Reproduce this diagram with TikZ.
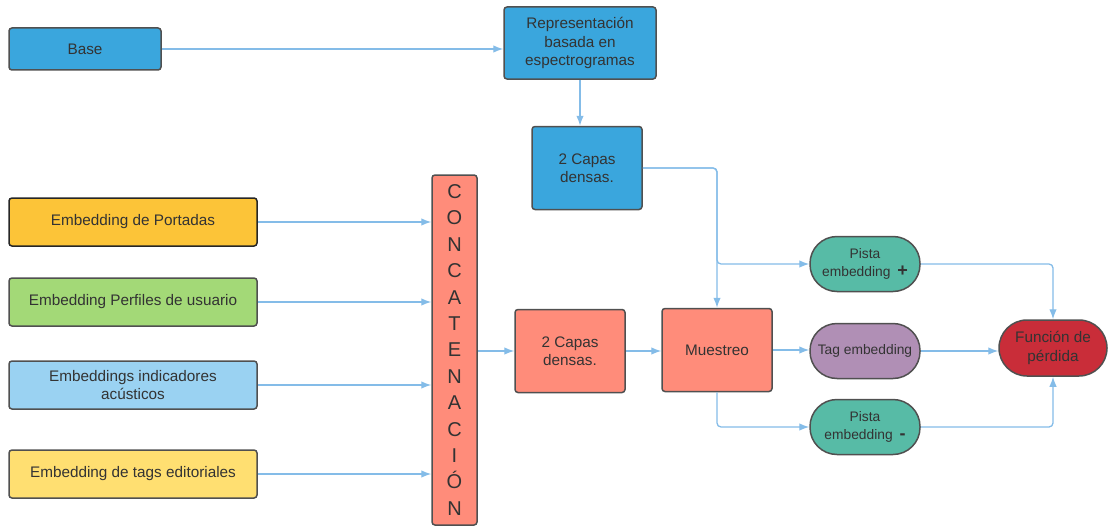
\documentclass[tikz,border=0pt]{standalone}
\usepackage{fontspec}
\setmainfont{Liberation Sans}
\usepackage{tikz}
\usetikzlibrary{arrows.meta}
\definecolor{cblue}{HTML}{3AA6DD}
\definecolor{corange}{HTML}{FCC438}
\definecolor{cgreen}{HTML}{A3D977}
\definecolor{clight}{HTML}{9AD2F2}
\definecolor{cyellow}{HTML}{FFDF71}
\definecolor{csalmon}{HTML}{FF8C7A}
\definecolor{cteal}{HTML}{57BBA6}
\definecolor{cpurple}{HTML}{B08FB5}
\definecolor{cred}{HTML}{C92D39}
\definecolor{cline}{HTML}{84BCE8}
\definecolor{cborder}{HTML}{505050}
\definecolor{ctext}{HTML}{333333}
\tikzstyle{pbox} = [rectangle, rounded corners=3pt, text centered, align=center, draw=cborder, line width=1.5pt, text=ctext, font=\fontsize{15.3}{18.5}\selectfont]
\tikzstyle{pemb} = [pbox, minimum width=248pt, minimum height=48pt]
\tikzstyle{psmall} = [pbox, minimum width=110pt, minimum height=83pt]
\tikzstyle{ppill} = [pbox, rounded corners=27pt, minimum width=110pt, minimum height=55pt, fill=cteal, font=\fontsize{13.8}{18.5}\selectfont]
\tikzstyle{arrow} = [draw=cline, line width=1.3pt, -{Latex[length=10pt, width=7.5pt]}]

\begin{document}
\begin{tikzpicture}[x=1pt, y=-1pt]
\useasboundingbox (0,0) rectangle (1108,527);
\node (base) [pbox, minimum width=152pt, minimum height=42pt, fill=cblue] at (85,49) {Base};
\node (repr) [pbox, minimum width=152pt, minimum height=72pt, fill=cblue] at (580,43) {Representación\\basada en\\espectrogramas};
\node (capasa) [psmall, fill=cblue] at (587,168) {2 Capas\\densas.};
\node (portadas) [pemb, fill=corange, draw=black!85] at (133,222) {Embedding de Portadas};
\node (perfiles) [pemb, fill=cgreen] at (133,302) {Embedding Perfiles de usuario};
\node (acusticos) [pemb, fill=clight] at (133,385) {Embeddings indicadores\\acústicos};
\node (tags) [pemb, fill=cyellow] at (133,474) {Embedding de tags editoriales};
\node (concat) [pbox, minimum width=45pt, minimum height=350pt, fill=csalmon, font=\fontsize{20}{26.4}\selectfont] at (454.5,350) {C\\O\\N\\C\\A\\T\\E\\N\\A\\C\\I\\Ó\\N};
\node (capasb) [psmall, fill=csalmon] at (570,351) {2 Capas\\densas.};
\node (muestreo) [psmall, fill=csalmon] at (717,350) {Muestreo};
\node (pistap) [ppill] at (865,264) {Pista\\embedding\enspace{\fontsize{18}{18}\selectfont\bfseries +}};
\node (tag) [ppill, fill=cpurple] at (865,351) {Tag embedding};
\node (pistam) [ppill] at (865,427) {Pista\\embedding\enspace{\fontsize{18}{18}\selectfont\bfseries -}};
\node (perdida) [pbox, rounded corners=28pt, minimum width=108pt, minimum height=56pt, fill=cred] at (1053,348) {Función de\\pérdida};
\coordinate (split) at (muestreo.north |- pistap.west);
\draw [arrow] (base.east) -- (base.east -| repr.west);
\draw [arrow] (repr.south) -- (repr.south |- capasa.north);
\draw [arrow, rounded corners=4pt] (capasa.east) -| (muestreo.north);
\draw [arrow, rounded corners=4pt] (capasa.east) -| (split) -- (pistap.west);
\draw [arrow] (portadas.east) -- (portadas.east -| concat.west);
\draw [arrow] (perfiles.east) -- (perfiles.east -| concat.west);
\draw [arrow] (acusticos.east) -- (acusticos.east -| concat.west);
\draw [arrow] (tags.east) -- (tags.east -| concat.west);
\draw [arrow] (capasb.west -| concat.east) -- (capasb.west);
\draw [arrow] (capasb.east) -- (capasb.east -| muestreo.west);
\draw [arrow] (muestreo.east) -- (muestreo.east -| tag.west);
\draw [arrow, rounded corners=4pt] (muestreo.south) |- (pistam.west);
\draw [arrow, rounded corners=4pt] (pistap.east) -| (perdida.north);
\draw [arrow] (tag.east) -- (tag.east -| perdida.west);
\draw [arrow, rounded corners=4pt] (pistam.east) -| (perdida.south);
\end{tikzpicture}
\end{document}
